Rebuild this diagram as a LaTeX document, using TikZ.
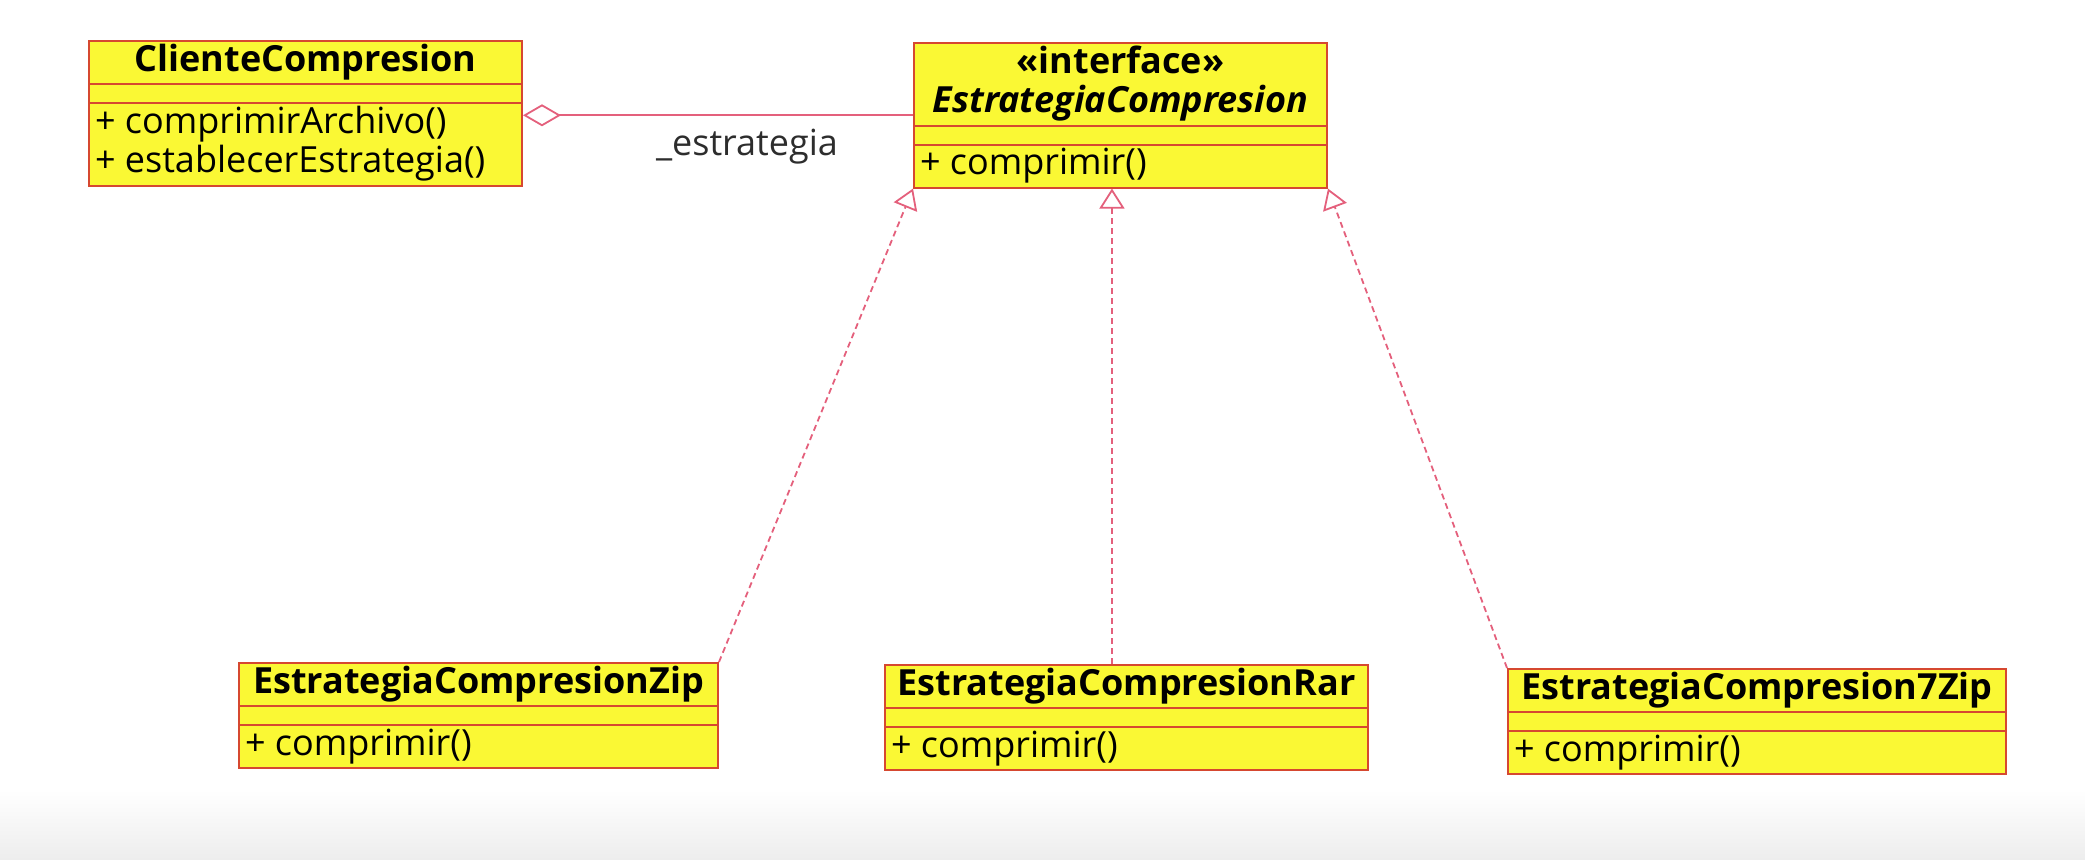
\documentclass[tikz,border=0pt]{standalone}
\usepackage{fontspec}
\setmainfont{Open Sans}
\usetikzlibrary{arrows.meta,shapes.multipart,calc,positioning}
\definecolor{umlfill}{RGB}{250,248,52}
\definecolor{umledge}{RGB}{214,72,48}
\definecolor{umllink}{RGB}{228,96,124}
\definecolor{umltext}{RGB}{45,45,45}
\newlength{\umlw}
\newcommand{\umlstrut}{\rule[-5pt]{0pt}{18.5pt}}
\newcommand{\umlgap}{\rule{0pt}{6.5pt}}
\newcommand{\umlhead}[1]{\hbox to\umlw{\hss\umlstrut#1\hss}}
\newcommand{\umlop}[1]{\hbox to\umlw{\umlstrut#1\hss}}
\tikzset{umlclass/.style={rectangle split, rectangle split parts=3,
           draw=umledge, fill=umlfill, line width=1pt, anchor=north west,
           inner xsep=3pt, inner ysep=1pt,
           font=\fontsize{18}{19.5}\selectfont},
         umlwidth/.code={\setlength{\umlw}{#1}},
         realize/.style={umllink, line width=.9pt, dash pattern=on 3pt off 2pt,
           -{Triangle[open,length=10pt,width=12.5pt,fill=white]}},
         aggreg/.style={umllink, line width=.9pt,
           -{Diamond[open,length=19pt,width=11pt,fill=white]}}}
\begin{document}
\begin{tikzpicture}[x=0.5pt,y=-0.5pt]
  \useasboundingbox (0,0) rectangle (2085,859);
  \shade[top color=white,bottom color=black!7] (0,790) rectangle (2085,859);
  \node[umlclass, umlwidth=210.5pt] (cliente) at (88,40)
    {\umlhead{\bfseries ClienteCompresion}\nodepart{two}\umlgap\nodepart{three}%
     \vbox{\umlop{+ comprimirArchivo()}\umlop{+ establecerEstrategia()}}};
  \node[umlclass, umlwidth=200.5pt] (iface) at (913,42)
    {\vbox{\umlhead{\bfseries «interface»}\umlhead{\bfseries\itshape EstrategiaCompresion}}%
     \nodepart{two}\umlgap\nodepart{three}\umlop{+ comprimir()}};
  \node[umlclass, umlwidth=233.5pt] (zip) at (238,662)
    {\umlhead{\bfseries EstrategiaCompresionZip}\nodepart{two}\umlgap\nodepart{three}%
     \umlop{+ comprimir()}};
  \node[umlclass, umlwidth=235.5pt] (rar) at (884,664)
    {\umlhead{\bfseries EstrategiaCompresionRar}\nodepart{two}\umlgap\nodepart{three}%
     \umlop{+ comprimir()}};
  \node[umlclass, umlwidth=243pt] (seven) at (1507,668)
    {\umlhead{\bfseries EstrategiaCompresion7Zip}\nodepart{two}\umlgap\nodepart{three}%
     \umlop{+ comprimir()}};
  \node[text=umltext, font=\fontsize{18}{19.5}\selectfont] (rolelbl) at (747,147) {\_estrategia};
  \draw[aggreg] (iface.west) -- (iface.west -| cliente.east);
  \coordinate (rartop) at ($(rar.north west)!0.47!(rar.north east)$);
  \draw[realize] (zip.north east) -- (iface.south west);
  \draw[realize] (rartop) -- (rartop |- iface.south);
  \draw[realize] (seven.north west) -- (iface.south east);
\end{tikzpicture}
\end{document}
